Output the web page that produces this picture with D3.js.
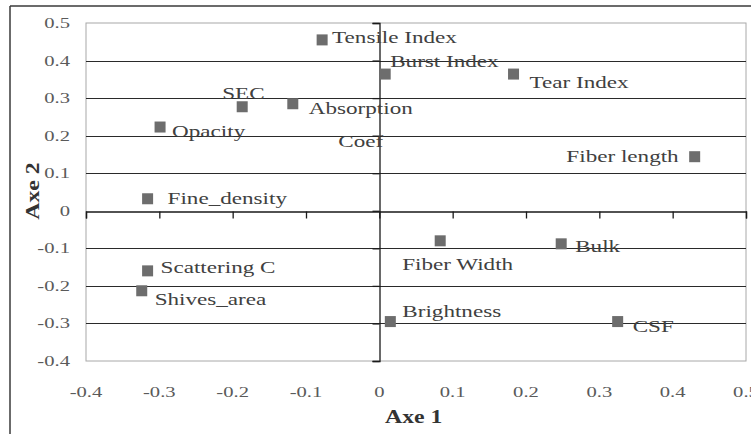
<!DOCTYPE html>
<html>
<head>
<meta charset="utf-8">
<script src="https://cdn.jsdelivr.net/npm/d3@7"></script>
<style>
  html, body { margin: 0; padding: 0; background: #fff; }
  svg { display: block; }
  text { font-family: "Liberation Serif", "Times New Roman", serif; }
</style>
</head>
<body>
<svg id="chart" width="751" height="434"></svg>
<script>
// ---- data ----
const variables = ["Tensile Index", "Burst Index", "Tear Index", "SEC", "Absorption\nCoef",
  "Opacity", "Fiber length", "Fine_density", "Fiber Width", "Bulk",
  "Scattering C", "Shives_area", "Brightness", "CSF"];
const axe1 = [-0.078, 0.008, 0.183, -0.187, -0.118, -0.299, 0.430, -0.316, 0.083, 0.248, -0.316, -0.324, 0.015, 0.325];
const axe2 = [0.455, 0.364, 0.364, 0.277, 0.285, 0.223, 0.144, 0.032, -0.080, -0.088, -0.160, -0.213, -0.295, -0.295];
const xTicks = [-0.4, -0.3, -0.2, -0.1, 0, 0.1, 0.2, 0.3, 0.4, 0.5];
const yTicks = [-0.4, -0.3, -0.2, -0.1, 0, 0.1, 0.2, 0.3, 0.4, 0.5];
const xTitle = "Axe 1";
const yTitle = "Axe 2";

// ---- layout (label placement relative to marker, px) ----
const labelLayout = [
  {dx: 10, dy: 3, anchor: "start"},
  {dx: 5, dy: -7, anchor: "start"},
  {dx: 16, dy: 14, anchor: "start"},
  {dx: -20, dy: -8, anchor: "start"},
  {dx: 68, dy: 10, anchor: "middle"},
  {dx: 12, dy: 10, anchor: "start"},
  {dx: -16, dy: 5, anchor: "end"},
  {dx: 20, dy: 5, anchor: "start"},
  {dx: -38, dy: 29, anchor: "start"},
  {dx: 14, dy: 8, anchor: "start"},
  {dx: 13, dy: 2, anchor: "start"},
  {dx: 13, dy: 14, anchor: "start"},
  {dx: 12, dy: -5, anchor: "start"},
  {dx: 15, dy: 10, anchor: "start"}
];

const svg = d3.select("#chart");
const W = 751, H = 434;
const plot = {left: 86, right: 746, top: 23, bottom: 361};
const STRETCH = 1.4;

const x = d3.scaleLinear().domain([-0.4, 0.5]).range([plot.left, plot.right]);
const y = d3.scaleLinear().domain([-0.4, 0.5]).range([plot.bottom, plot.top]);

function stretchText(sel, f) {
  sel.each(function() {
    const len = this.getComputedTextLength();
    if (len > 0) {
      d3.select(this).attr("textLength", len * f).attr("lengthAdjust", "spacingAndGlyphs");
    }
  });
}

// outer frame
svg.append("line").attr("x1", 10).attr("x2", W).attr("y1", 6).attr("y2", 6)
  .attr("stroke", "#3a3a3a").attr("stroke-width", 1.5);
svg.append("line").attr("x1", 10).attr("x2", 10).attr("y1", 6).attr("y2", H)
  .attr("stroke", "#3a3a3a").attr("stroke-width", 1.5);

// plot area border
svg.append("rect").attr("x", plot.left).attr("y", plot.top)
  .attr("width", plot.right - plot.left).attr("height", plot.bottom - plot.top)
  .attr("fill", "none").attr("stroke", "#a8a8a8").attr("stroke-width", 1);

// horizontal gridlines
svg.append("g").selectAll("line").data(yTicks.filter(t => t > -0.4 && t < 0.5 && t !== 0)).join("line")
  .attr("x1", plot.left).attr("x2", plot.right)
  .attr("y1", d => Math.round(y(d)) + 0.5).attr("y2", d => Math.round(y(d)) + 0.5)
  .attr("stroke", "#2a2a2a").attr("stroke-width", 1.2);

// x axis at y=0 (ticks downward)
const xAxis = d3.axisBottom(x).tickValues(xTicks).tickSize(7).tickFormat("");
const gx = svg.append("g").attr("transform", `translate(0,${Math.round(y(0)) + 0.5})`).call(xAxis);
gx.select(".domain").attr("stroke", "#1a1a1a").attr("stroke-width", 1.3);
gx.selectAll(".tick line").attr("stroke", "#1a1a1a").attr("stroke-width", 1.3);

// y axis at x=0 (ticks leftward)
const yAxis = d3.axisLeft(y).tickValues(yTicks).tickSize(7).tickFormat("");
const gy = svg.append("g").attr("transform", `translate(${Math.round(x(0)) + 0.5},0)`).call(yAxis);
gy.select(".domain").attr("stroke", "#1a1a1a").attr("stroke-width", 1.3);
gy.selectAll(".tick line").attr("stroke", "#1a1a1a").attr("stroke-width", 1.3);

// tick labels (low position), plain hyphen minus
const fmt = d => Math.abs(d) < 1e-9 ? "0" : d.toFixed(1);
svg.append("g").selectAll("text").data(yTicks).join("text")
  .attr("x", 70).attr("y", d => y(d) + 5)
  .attr("text-anchor", "end")
  .attr("font-size", 14.5).attr("fill", "#5a5a5a")
  .text(fmt)
  .call(stretchText, 1.42);
svg.append("g").selectAll("text").data(xTicks).join("text")
  .attr("x", d => x(d)).attr("y", 397)
  .attr("text-anchor", "middle")
  .attr("font-size", 14.5).attr("fill", "#5a5a5a")
  .text(fmt)
  .call(stretchText, 1.42);

// axis titles
svg.append("text").attr("x", 385).attr("y", 423)
  .attr("font-size", 19).attr("font-weight", "bold").attr("fill", "#333")
  .text(xTitle).call(stretchText, 1.25);
svg.append("text").attr("transform", "translate(39,191) rotate(-90)")
  .attr("text-anchor", "middle")
  .attr("font-size", 19).attr("font-weight", "bold").attr("fill", "#333")
  .text(yTitle).call(stretchText, 1.25);

// points
const pts = variables.map((v, i) => ({name: v, x: axe1[i], y: axe2[i], lay: labelLayout[i]}));
const MS = 11;
svg.append("g").selectAll("rect").data(pts).join("rect")
  .attr("x", d => x(d.x) - MS / 2).attr("y", d => y(d.y) - MS / 2)
  .attr("width", MS).attr("height", MS)
  .attr("fill", "#6d6d6d");

// labels
const lg = svg.append("g");
pts.forEach(d => {
  const lines = d.name.split("\n");
  lines.forEach((ln, k) => {
    lg.append("text")
      .attr("x", x(d.x) + d.lay.dx)
      .attr("y", y(d.y) + d.lay.dy + k * 33)
      .attr("text-anchor", d.lay.anchor)
      .attr("font-size", 16.5).attr("fill", "#404040")
      .text(ln)
      .call(stretchText, STRETCH);
  });
});
</script>
</body>
</html>
